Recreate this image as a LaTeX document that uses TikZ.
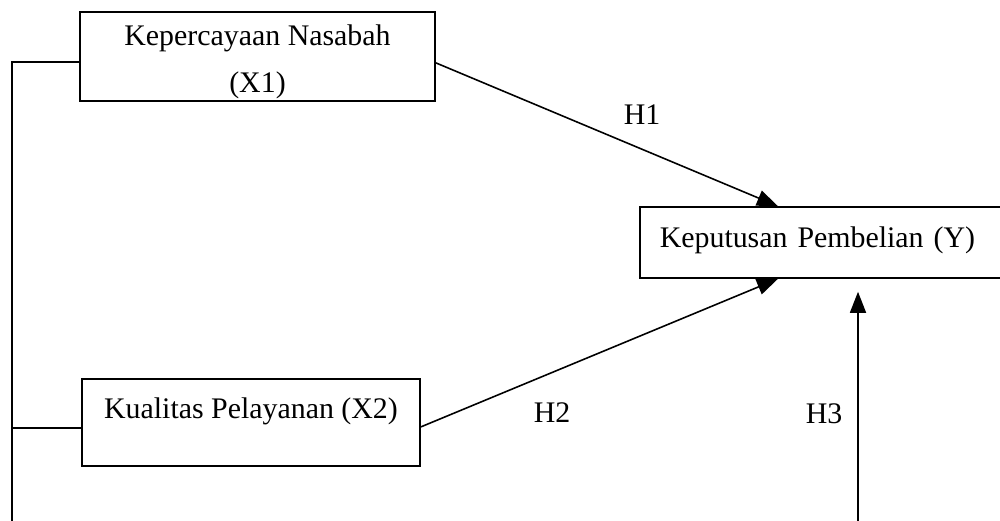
\documentclass[tikz,border=0pt]{standalone}
\usepackage{fontspec}
\setmainfont{Liberation Serif}
\usepackage{tikz}
\usetikzlibrary{arrows.meta,calc}

\tikzset{
	varbox/.style={draw, line width=0.9pt, inner sep=0pt, font=\fontsize{17}{25}\selectfont},
	hyp/.style={line width=0.9pt, -{Triangle[length=0.42cm, width=0.32cm]}},
	lbl/.style={font=\fontsize{17}{20}\selectfont}
}

\begin{document}
\begin{tikzpicture}[]
	\clip (0,0) rectangle (20,-10.42);
	%\draw[help lines] (0,0) grid (20,-10.42);
	\node[varbox, minimum width=7.1cm, minimum height=1.78cm, align=center, font=\fontsize{17}{27}\selectfont] (x1) at (5.15,-1.13) {\rule{0pt}{18pt}Kepercayaan Nasabah\\(X1)};
	\node[varbox, minimum width=6.76cm, text height=0.78cm, text depth=0.96cm] (x2) at (5.02,-8.45) {Kualitas Pelayanan (X2)};
	\node[varbox, anchor=west, inner xsep=0.4cm, text width=6.62cm, align=left, text height=0.8cm, text depth=0.62cm] (y) at (12.78,-4.85) {Keputusan Pembelian (Y)};
	\coordinate (bl) at (0.24,-10.42);
	\coordinate (br) at (17.16,-10.42);
	% bracket on the left
	\draw[line width=0.9pt] ($(x1.north west)!0.56!(x1.south west)$) -| (bl);
	\draw[line width=0.9pt] ($(x2.north west)!0.56!(x2.south west)$) -- ++(-1.4,0);
	% hypotheses
	\draw[hyp] ($(x1.north east)!0.57!(x1.south east)$) -- ([xshift=2.78cm]y.north west);
	\draw[hyp] ($(x2.north east)!0.55!(x2.south east)$) -- ([xshift=2.78cm]y.south west);
	\draw[hyp] (br) -- ([xshift=4.38cm, yshift=-0.26cm]y.south west);
	\node[lbl] (h1) at (12.84,-2.3) {H1};
	\node[lbl] (h2) at (11.04,-8.26) {H2};
	\node[lbl] (h3) at (16.48,-8.28) {H3};
\end{tikzpicture}
\end{document}
